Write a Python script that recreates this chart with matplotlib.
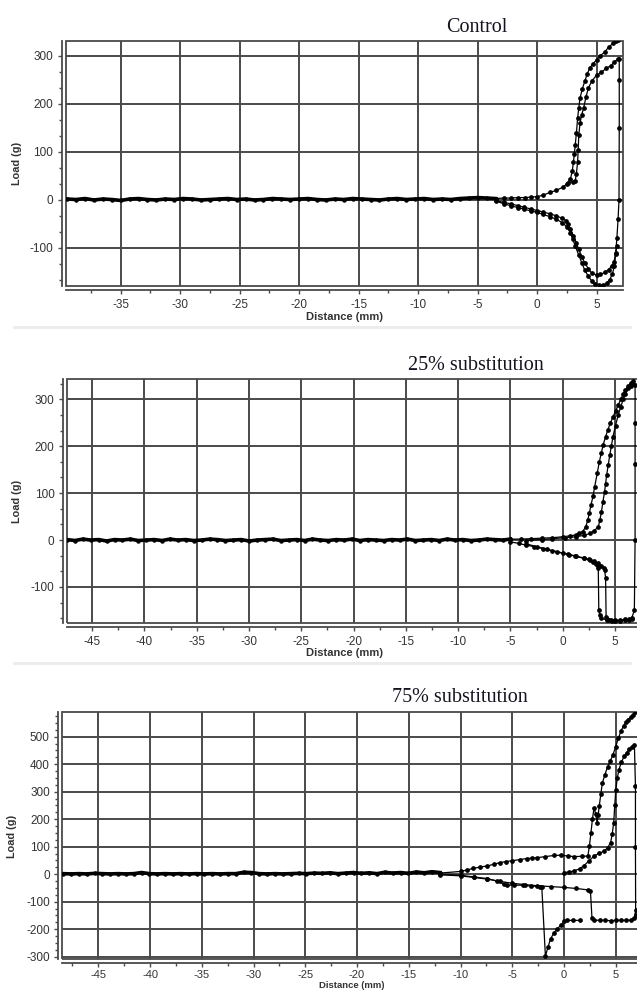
import matplotlib.pyplot as plt
import numpy as np
from matplotlib.ticker import MultipleLocator
from matplotlib.patches import Rectangle
from matplotlib.lines import Line2D

plt.rcParams['font.family'] = ['Liberation Sans Narrow', 'Liberation Sans', 'DejaVu Sans']

# ---- Control ----
ctrl_base_y = [2, 1, 3, 0, 2, 1, -1, 2, 3, 1, 0, 2, 1, 3, 2, 0, 1, 2, 3, 1,
               2, 0, 1, 3, 2, 1, 2, 3, 1, 0, 2, 1, 3, 2, 1, 0, 2, 3, 1, 2,
               3, 1, 2, 1, 3, 4, 5, 4, 3]
ctrl_up1_x = [-3.5, -2.8, -2.2, -1.6, -1.0, -0.5, 0.0, 0.5, 1.1, 1.6, 2.2, 2.5, 2.8, 2.95, 3.05,
              3.12, 3.2, 3.3, 3.4, 3.5, 3.6, 3.8, 4.0, 4.2, 4.4, 4.7, 5.0, 5.3, 5.7, 6.0, 6.4, 6.6, 6.8]
ctrl_up1_y = [3, 4, 4, 5, 5, 6, 7, 10, 16, 20, 27, 34, 44, 60, 79,
              95, 114, 140, 170, 192, 212, 232, 247, 262, 274, 284, 292, 300, 309, 318, 327, 331, 334]
ctrl_up2_x = [2.6, 3.0, 3.2, 3.3, 3.4, 3.45, 3.5, 3.6, 3.75, 3.9, 4.1, 4.3, 4.6, 5.0, 5.4, 5.8, 6.2, 6.5, 6.8]
ctrl_up2_y = [35, 38, 40, 55, 79, 105, 135, 160, 178, 191, 214, 233, 248, 260, 266, 274, 280, 288, 294]
ctrl_lo1_x = [-3.5, -2.8, -2.2, -1.6, -1.1, -0.5, 0.0, 0.5, 1.1, 1.6, 2.1, 2.4, 2.6, 2.8, 3.05, 3.3,
              3.5, 3.75, 4.0, 4.3, 4.6, 5.0, 5.3, 5.7, 6.0, 6.25, 6.45, 6.6, 6.7]
ctrl_lo1_y = [-1, -5, -8, -12, -15, -19, -22, -25, -29, -33, -38, -43, -50, -60, -75, -90,
              -103, -118, -131, -143, -153, -156, -155, -151, -145, -138, -130, -112, -95]
ctrl_lo2_x = [-3.5, -2.8, -2.2, -1.6, -1.1, -0.5, 0.0, 0.5, 1.1, 1.6, 2.1, 2.5, 2.8, 3.0, 3.2, 3.5,
              3.75, 4.0, 4.3, 4.6, 4.86, 5.2, 5.55, 5.85, 6.1, 6.3, 6.5, 6.6, 6.7, 6.8, 6.88, 6.9, 6.9, 6.9]
ctrl_lo2_y = [-2, -8, -12, -16, -19, -23, -26, -30, -35, -40, -47, -56, -68, -82, -96, -115,
              -131, -146, -159, -169, -176, -178, -178, -173, -166, -155, -138, -110, -80, -40, 0, 150, 250, 294]

# ---- 25% substitution ----
s25_base_y = [1, -1, 2, 0, 1, -2, 1, 0, 2, -1, 0, 1, -1, 2, 0, 1, -1, 0, 2, 1,
              -1, 0, 1, -2, 0, 1, 2, -1, 0, 1, -1, 2, 0, -1, 1, 0, 2, -1, 1, 0,
              -1, 1, 0, 2, -1, 0, 1, -1, 2, 0, 1, -1, 0, 2, 1, 0, 2]
s25_up1_x = [-5.0, -4.0, -3.0, -2.0, -1.0, 0.0, 0.7, 1.3, 1.6, 1.9, 2.2, 2.4, 2.55, 2.7, 2.9, 3.05,
             3.3, 3.5, 3.7, 3.85, 4.1, 4.3, 4.55, 4.8, 5.05, 5.3, 5.55, 5.8, 6.0, 6.25, 6.5, 6.7]
s25_up1_y = [2, 2, 3, 4, 5, 7, 9, 11, 14, 18, 28, 43, 58, 74, 94, 113,
             142, 167, 186, 202, 220, 234, 249, 262, 275, 287, 300, 312, 320, 328, 334, 338]
s25_up2_x = [-3.5, -2.0, -1.0, 0.2, 1.3, 2.0, 2.6, 3.0, 3.4, 3.55, 3.7, 3.85, 4.0, 4.1, 4.2, 4.35,
             4.5, 4.65, 4.8, 5.05, 5.3, 5.55, 5.8, 6.0, 6.25, 6.5, 6.7]
s25_up2_y = [-1, 1, 3, 5, 7, 10, 14, 20, 28, 42, 60, 82, 103, 120, 138, 160,
             181, 200, 220, 244, 266, 284, 301, 312, 323, 329, 333]
s25_loa_x = [-5.0, -4.2, -3.5, -2.7, -1.9, -1.0, 0.0, 0.6, 1.3, 2.0, 2.6, 2.9, 3.2, 3.35, 3.4, 3.45,
             3.55, 3.7, 4.2, 4.6, 5.0, 5.5, 6.0, 6.3, 6.6, 6.85, 6.92, 6.92, 6.92, 6.92]
s25_loa_y = [-4, -7, -11, -14, -18, -23, -28, -31, -35, -39, -43, -46, -50, -55, -60, -149,
             -160, -167, -170, -171, -170, -172, -168, -170, -166, -150, 0, 163, 250, 330]
s25_lob_x = [-3.5, -2.5, -1.5, -0.5, 0.5, 1.2, 2.0, 2.5, 3.0, 3.4, 3.7, 3.9, 4.0, 4.1, 4.15, 4.25,
             4.4, 4.7, 5.0, 5.5, 6.0, 6.3, 6.6]
s25_lob_y = [-8, -14, -20, -25, -30, -34, -38, -41, -45, -49, -55, -60, -64, -80, -165, -169,
             -170, -173, -172, -171, -171, -169, -168]

# ---- 75% substitution ----
s75_base_y = [2, 1, 2, 1, 3, 2, 1, 2, 1, 2, 6, 2, 1, 2, 1, 2, 1, 2, 1, 2,
              1, 2, 2, 7, 6, 2, 1, 2, 1, 2, 3, 2, 4, 3, 5, 2, 4, 6, 3, 5,
              2, 7, 4, 6, 3, 8, 5, 9, 6]
s75_upa_x = [-12.0, -10.0, -9.4, -8.8, -8.1, -7.4, -6.8, -6.2, -5.6, -5.0, -4.3, -3.6, -3.1, -2.6,
             -1.8, -1.0, -0.3, 0.4, 1.0, 1.7, 2.3, 2.45, 2.6, 2.74, 2.9, 3.05, 3.2, 3.3, 3.4, 3.55,
             3.7, 3.95, 4.2, 4.45, 4.7, 5.0, 5.25, 5.5, 5.75, 6.0, 6.2, 6.45, 6.7, 6.9]
s75_upa_y = [4, 10, 15, 21, 26, 30, 36, 42, 46, 49, 53, 57, 58, 60,
             64, 68, 69, 66, 64, 65, 66, 102, 150, 199, 241, 220, 187, 215, 247, 290,
             331, 362, 390, 410, 432, 464, 495, 520, 540, 554, 562, 572, 580, 590]
s75_upb_x = [0.0, 0.5, 1.0, 1.5, 1.9, 2.4, 2.9, 3.4, 3.9, 4.2, 4.5, 4.65, 4.8, 4.9, 5.0, 5.15,
             5.3, 5.55, 5.8, 6.05, 6.3, 6.55, 6.8, 6.9, 6.9, 6.92]
s75_upb_y = [6, 8, 12, 20, 30, 48, 66, 76, 84, 96, 114, 145, 187, 250, 307, 350,
             380, 408, 428, 442, 455, 463, 470, 320, 100, -150]
s75_loa_x = [-12.0, -10.0, -8.7, -7.4, -6.2, -5.0, -3.8, -2.6, -1.3, 0.0, 1.2, 2.3, 2.55, 2.7,
             2.9, 3.5, 4.0, 4.5, 5.0, 5.5, 6.0, 6.45, 6.8, 6.92]
s75_loa_y = [-2, -6, -12, -18, -26, -33, -38, -42, -45, -48, -52, -57, -60, -160,
             -168, -167, -168, -169, -168, -167, -168, -167, -160, -130]
s75_lob_x = [-12.0, -10.0, -8.7, -7.4, -6.5, -5.8, -5.5, -4.8, -4.0, -3.2, -2.3, -2.15, -1.8, -1.55,
             -1.3, -1.0, -0.65, -0.3, 0.0, 0.3, 0.9, 1.5]
s75_lob_y = [-1, -4, -10, -16, -25, -36, -40, -40, -40, -43, -45, -46, -298, -265,
             -235, -215, -199, -185, -172, -168, -168, -168]

W, H = 637, 991
fig = plt.figure(figsize=(W / 100, H / 100), dpi=100)
fig.patch.set_facecolor('white')

GRID = '#4a4a4a'
TXT = '#333333'


def px_rect(left, top, right, bottom):
    return [left / W, 1 - bottom / H, (right - left) / W, (bottom - top) / H]


def make_panel(rect, xlim, ylim, ymajor, yminor, base_x, base_y, curves, xlab_size=8.5, xlab_pad=3):
    ax = fig.add_axes(rect)
    ax.set_xlim(*xlim)
    ax.set_ylim(*ylim)
    ax.xaxis.set_major_locator(MultipleLocator(5))
    ax.xaxis.set_minor_locator(MultipleLocator(2.5))
    ax.yaxis.set_major_locator(MultipleLocator(ymajor))
    ax.yaxis.set_minor_locator(MultipleLocator(yminor))
    ax.xaxis.set_major_formatter(lambda v, p: '%d' % round(v))
    ax.yaxis.set_major_formatter(lambda v, p: '%d' % round(v))
    ax.grid(True, which='major', color=GRID, lw=1.4, zorder=1)
    ax.set_axisbelow(True)
    for s in ['top', 'right']:
        ax.spines[s].set_visible(False)
    for s in ['bottom', 'left']:
        ax.spines[s].set_position(('outward', 3))
        ax.spines[s].set_color(GRID)
        ax.spines[s].set_linewidth(1.3)
    ax.add_patch(Rectangle((0, 0), 1, 1, transform=ax.transAxes, fill=False,
                           ec=GRID, lw=1.3, clip_on=False, zorder=2))
    ax.tick_params(which='major', length=3, width=1, color=GRID, labelsize=8.5,
                   labelcolor=TXT, pad=3)
    ax.tick_params(axis='x', which='major', labelsize=xlab_size, pad=xlab_pad)
    ax.tick_params(which='minor', length=2, width=1, color=GRID)

    ax.plot(base_x, base_y, color='black', lw=2.6, marker='o', ms=2.2, zorder=3)
    for cx, cy in curves:
        ax.plot(cx, cy, color='black', lw=0.9, marker='o', ms=2.4, zorder=3)
    return ax


# Control
make_panel(px_rect(65.7, 41, 623.3, 286), (-39.62, 7.24), (-179.2, 331.2), 100, 100 / 3,
           np.linspace(-39.5, -3.5, len(ctrl_base_y)), ctrl_base_y,
           [(ctrl_up1_x, ctrl_up1_y), (ctrl_up2_x, ctrl_up2_y),
            (ctrl_lo1_x, ctrl_lo1_y), (ctrl_lo2_x, ctrl_lo2_y)])
# 25%
make_panel(px_rect(67, 379.3, 640, 623.3), (-47.4, 7.39), (-177.4, 342.6), 100, 100 / 3,
           np.linspace(-47.4, -5.0, len(s25_base_y)), s25_base_y,
           [(s25_up1_x, s25_up1_y), (s25_up2_x, s25_up2_y),
            (s25_loa_x, s25_loa_y), (s25_lob_x, s25_lob_y)])
# 75%
make_panel(px_rect(62.3, 712.3, 640, 959.3), (-48.48, 7.34), (-309.5, 588.7), 100, 25,
           np.linspace(-48.4, -12.0, len(s75_base_y)), s75_base_y,
           [(s75_upa_x, s75_upa_y), (s75_upb_x, s75_upb_y),
            (s75_loa_x, s75_loa_y), (s75_lob_x, s75_lob_y)], xlab_size=8, xlab_pad=1.5)

titles = [('Control', 477, 27), ('25% substitution', 476, 365), ('75% substitution', 460, 698)]
for t, x, y in titles:
    fig.text(x / W, 1 - y / H, t, ha='center', va='center', fontsize=14.5,
             family=['Liberation Serif', 'DejaVu Serif'], color='#141420')

for x, y in [(17, 163.5), (17, 501), (12, 836)]:
    fig.text(x / W, 1 - y / H, 'Load (g)', rotation=90, ha='center', va='center',
             fontsize=7.8, fontweight='bold', color=TXT, family=['Liberation Sans', 'DejaVu Sans'])
for x, y, fs in [(344, 317, 8), (345, 653, 8), (352, 986, 6.8)]:
    fig.text(x / W, 1 - y / H, 'Distance (mm)', ha='center', va='center',
             fontsize=fs, fontweight='bold', color=TXT, family=['Liberation Sans', 'DejaVu Sans'])

for y in [327, 663]:
    fig.add_artist(Line2D([14 / W, 630 / W], [1 - y / H, 1 - y / H], color='#ebebeb', lw=2))

fig.savefig('out.png', dpi=100)
